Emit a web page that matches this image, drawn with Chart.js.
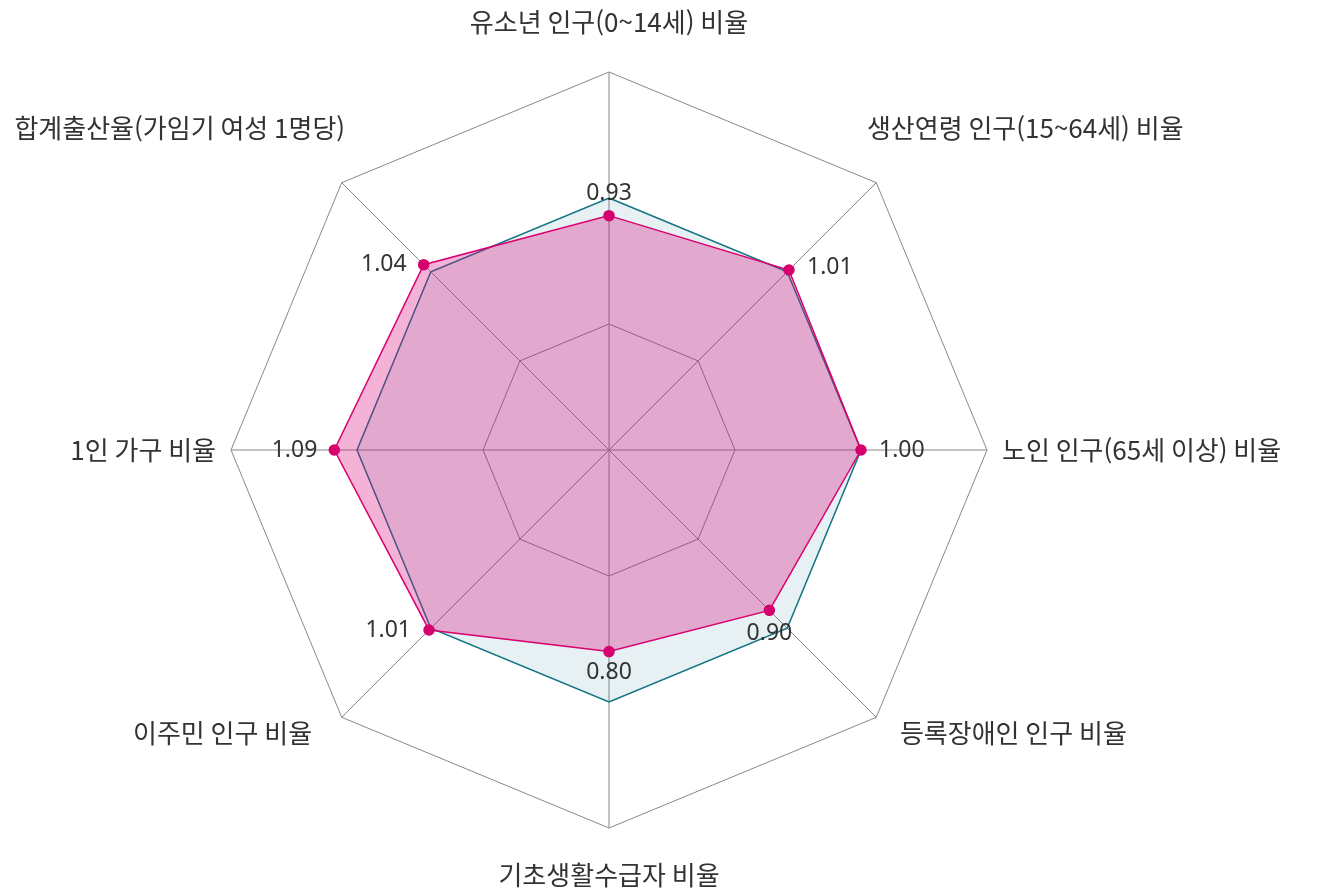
<!DOCTYPE html>
<html lang="ko">
<head>
<meta charset="utf-8">
<title>지역 인구 지표 비율</title>
<script src="https://cdn.jsdelivr.net/npm/chart.js@4.4.1/dist/chart.umd.min.js"></script>
<style>
	html, body { margin: 0; padding: 0; background: #fff; }
	#wrap { width: 1318px; height: 893px; position: relative; }
</style>
</head>
<body>
<div id="wrap"><canvas id="chart"></canvas></div>
<script>

// axes, clockwise from the top
const categories = [
	'유소년 인구(0~14세) 비율',
	'생산연령 인구(15~64세) 비율',
	'노인 인구(65세 이상) 비율',
	'등록장애인 인구 비율',
	'기초생활수급자 비율',
	'이주민 인구 비율',
	'1인 가구 비율',
	'합계출산율(가임기 여성 1명당)',
];

const regionValues = [0.93, 1.01, 1.00, 0.90, 0.80, 1.01, 1.09, 1.04];
const baseValues = [1.00, 1.00, 1.00, 1.00, 1.00, 1.00, 1.00, 1.00];

const scaleMax = 1.5;
const scaleStep = 0.5;

// text placement around the web
const nameAlign = ['center', 'left', 'left', 'left', 'center', 'right', 'right', 'right'];
const nameShift = [[0, -35], [-20, -44], [0, 0], [13, 5], [0, 32], [-19, 5], [0, 0], [14, -44]];
const valueAlign = ['center', 'left', 'left', 'center', 'center', 'right', 'right', 'right'];
const valueShift = [[0, -22], [18, -3], [18, 0], [0, 23], [0, 21], [-18, 0], [-17, 0], [-17, 0]];

const textPlugin = {
	id: 'radarText',
	afterDatasetsDraw(chart) {
		const scale = chart.scales.r;
		const ctx = chart.ctx;
		ctx.save();
		ctx.fillStyle = '#333';
		ctx.textBaseline = 'middle';

		ctx.font = '26px "Noto Sans CJK KR"';
		categories.forEach((name, i) => {
			let p = scale.getPointPosition(i, scale.drawingArea + 15);
			ctx.textAlign = nameAlign[i];
			ctx.fillText(name, p.x + nameShift[i][0], p.y + nameShift[i][1]);
		});

		ctx.font = '23px "Noto Sans"';
		chart.getDatasetMeta(0).data.forEach((pt, i) => {
			ctx.textAlign = valueAlign[i];
			ctx.fillText(regionValues[i].toFixed(2), pt.x + valueShift[i][0], pt.y + valueShift[i][1]);
		});

		ctx.restore();
	},
};

new Chart(document.getElementById('chart'), {
	type: 'radar',
	data: {
		labels: categories,
		datasets: [
			{
				data: regionValues,
				borderColor: '#d8006f',
				backgroundColor: 'rgba(220, 0, 120, 0.3)',
				borderWidth: 1.5,
				pointRadius: 5,
				pointBackgroundColor: '#d6006e',
				pointBorderColor: '#d6006e',
				fill: true,
			},
			{
				data: baseValues,
				borderColor: '#167a8b',
				backgroundColor: 'rgba(22, 122, 139, 0.1)',
				borderWidth: 1.5,
				pointRadius: 0,
				fill: true,
			},
		],
	},
	options: {
		responsive: true,
		maintainAspectRatio: false,
		animation: false,
		layout: { padding: { top: 72, bottom: 64, left: 0, right: 100 } },
		plugins: {
			legend: { display: false },
			tooltip: { enabled: false },
		},
		scales: {
			r: {
				min: 0,
				max: scaleMax,
				ticks: { display: false, stepSize: scaleStep },
				grid: { color: '#888', lineWidth: 1 },
				angleLines: { color: '#888', lineWidth: 1 },
				pointLabels: { display: false },
			},
		},
	},
	plugins: [textPlugin],
});

</script>
</body>
</html>
